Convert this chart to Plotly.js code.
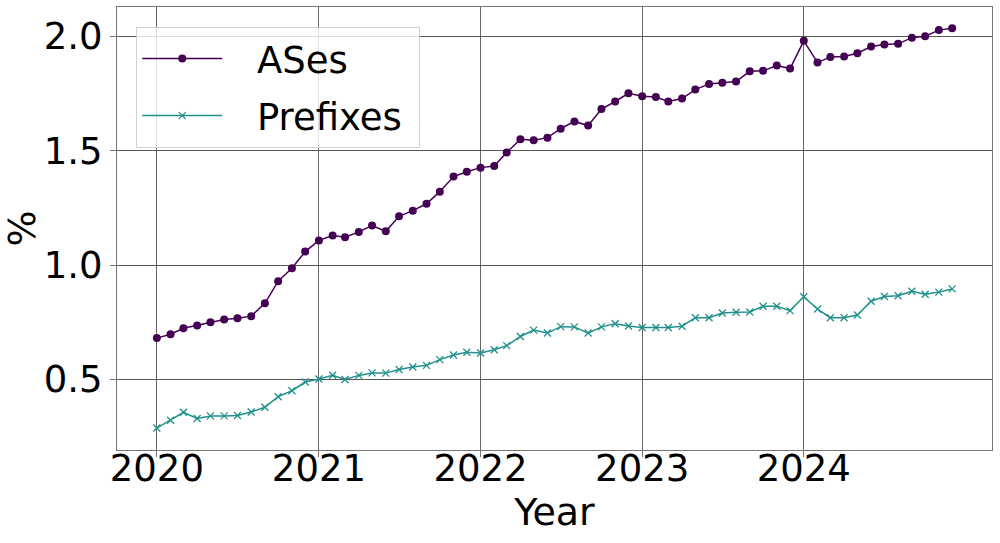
<!DOCTYPE html>
<html>
<head>
<meta charset="utf-8">
<script src="https://cdn.plot.ly/plotly-3.0.1.min.js"></script>
<style>html,body{margin:0;padding:0;background:#fff;}#chart{width:1000px;height:543px;}</style>
</head>
<body>
<div id="chart"></div>
<script>
// Monthly samples, Jan 2020 – Dec 2024
const years = [2020, 2021, 2022, 2023, 2024];
const monthNums = ["01","02","03","04","05","06","07","08","09","10","11","12"];
const months = [];
years.forEach(y => monthNums.forEach(m => months.push(y + "-" + m + "-01")));

const asesPct = [
  0.681, 0.698, 0.724, 0.736, 0.750, 0.762, 0.768, 0.777, 0.833, 0.930, 0.986, 1.059,
  1.108, 1.129, 1.122, 1.145, 1.173, 1.148, 1.213, 1.238, 1.268, 1.321, 1.387, 1.408,
  1.426, 1.433, 1.492, 1.550, 1.546, 1.557, 1.596, 1.628, 1.610, 1.682, 1.715, 1.751,
  1.738, 1.735, 1.715, 1.728, 1.767, 1.792, 1.797, 1.802, 1.847, 1.849, 1.872, 1.859,
  1.980, 1.885, 1.910, 1.912, 1.926, 1.955, 1.964, 1.967, 1.994, 2.000, 2.027, 2.035
];
const prefixesPct = [
  0.288, 0.322, 0.357, 0.330, 0.341, 0.341, 0.343, 0.358, 0.379, 0.425, 0.451, 0.489,
  0.502, 0.519, 0.500, 0.518, 0.529, 0.528, 0.544, 0.555, 0.562, 0.587, 0.607, 0.619,
  0.616, 0.630, 0.648, 0.688, 0.716, 0.703, 0.731, 0.730, 0.703, 0.730, 0.744, 0.734,
  0.727, 0.727, 0.727, 0.733, 0.770, 0.770, 0.791, 0.794, 0.795, 0.820, 0.820, 0.801,
  0.862, 0.808, 0.770, 0.770, 0.782, 0.842, 0.863, 0.866, 0.886, 0.873, 0.882, 0.896
];
const seriesNames = ["ASes", "Prefixes"];
const yTicks = [0.5, 1.0, 1.5, 2.0];
const xTicks = ["2020-01-01", "2021-01-01", "2022-01-01", "2023-01-01", "2024-01-01"];
const xTickText = ["2020", "2021", "2022", "2023", "2024"];

const FONT = "DejaVu Sans, sans-serif";
const LEAD = "\u00a0\u00a0\u2006";
const TRAIL = "\u00a0";

const traces = [
  {
    x: months, y: asesPct, name: LEAD + seriesNames[0] + TRAIL, legendgroup: "a",
    type: "scatter", mode: "lines+markers",
    line: {color: "#440154", width: 1.5},
    marker: {symbol: "circle", size: 8, color: "#440154"}
  },
  {
    x: months, y: prefixesPct, name: LEAD + seriesNames[1] + TRAIL, legendgroup: "b",
    type: "scatter", mode: "lines+markers",
    line: {color: "#21918c", width: 1.5},
    marker: {symbol: "x-thin", size: 7, color: "#21918c", line: {color: "#21918c", width: 1.3}}
  }
];

const layout = {
  width: 1000, height: 543,
  margin: {l: 117, r: 8, t: 7, b: 93},
  paper_bgcolor: "#fff", plot_bgcolor: "#fff",
  font: {family: FONT, size: 37, color: "#000"},
  showlegend: true,
  legend: {
    x: 0.022, y: 0.955, xanchor: "left", yanchor: "top",
    bgcolor: "rgba(255,255,255,0.8)", bordercolor: "#d0d0d0", borderwidth: 1,
    font: {family: FONT, size: 37, color: "#000"},
    itemwidth: 80, tracegroupgap: 6, traceorder: "grouped"
  },
  xaxis: {
    type: "date",
    range: ["2019-10-03", "2025-03-01"],
    tickvals: xTicks, ticktext: xTickText,
    showgrid: true, gridcolor: "#666", gridwidth: 1,
    ticks: "outside", ticklen: 6, tickcolor: "#777",
    showline: true, linecolor: "#777", linewidth: 1, mirror: true,
    zeroline: false,
    ticklabelstandoff: -20,
    tickfont: {family: FONT, size: 37, color: "#000"},
    title: {text: "Year", font: {family: FONT, size: 38, color: "#000"}, standoff: 2},
    automargin: false
  },
  yaxis: {
    range: [0.192, 2.128],
    tickvals: yTicks, tickformat: ".1f",
    showgrid: true, gridcolor: "#555", gridwidth: 1,
    ticks: "outside", ticklen: 6, tickcolor: "#777",
    showline: true, linecolor: "#777", linewidth: 1, mirror: true,
    zeroline: false,
    tickfont: {family: FONT, size: 37, color: "#000"},
    title: {text: "%", font: {family: FONT, size: 38, color: "#000"}, standoff: 3},
    automargin: false
  }
};

Plotly.newPlot("chart", traces, layout, {displayModeBar: false, staticPlot: true});
</script>
</body>
</html>
